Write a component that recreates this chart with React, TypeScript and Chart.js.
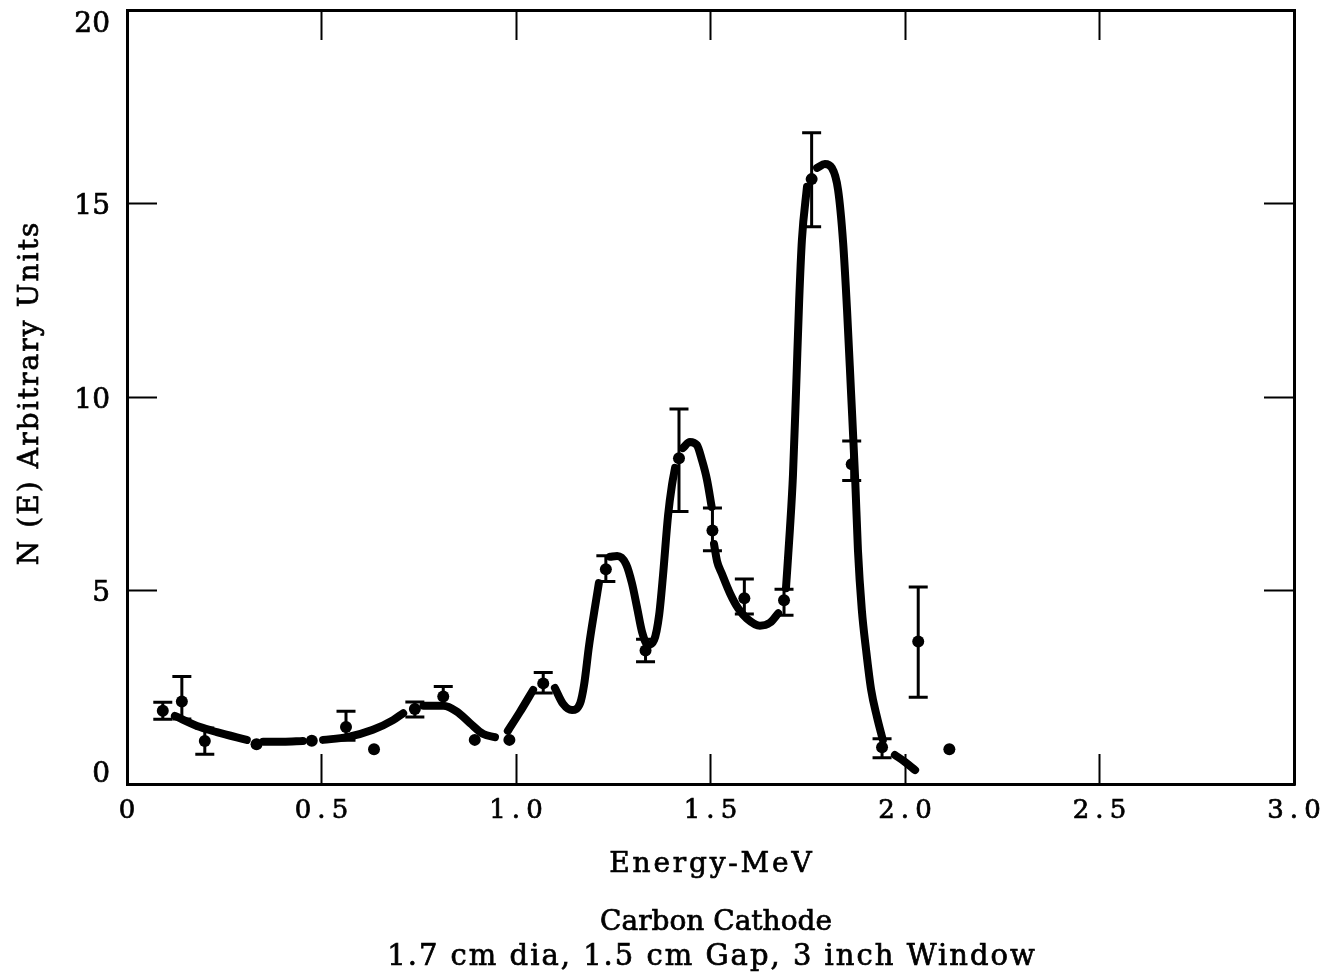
import { useEffect, useRef } from 'react';
import { Chart, registerables } from 'chart.js';

Chart.register(...registerables);

// Measured spectrum: energy (MeV), N(E) in arbitrary units, error bar extents
const energy = [0.092, 0.141, 0.2, 0.333, 0.475, 0.563, 0.635, 0.74, 0.813, 0.894, 0.983, 1.07, 1.231, 1.333, 1.419, 1.505, 1.587, 1.689, 1.76, 1.863, 1.941, 2.034, 2.114];
const counts = [1.89, 2.13, 1.11, 1.03, 1.12, 1.47, 0.9, 1.94, 2.26, 1.14, 1.14, 2.6, 5.55, 3.45, 8.42, 6.55, 4.8, 4.75, 15.63, 8.26, 0.95, 3.68, 0.9];
const errUp = [0.22, 0.65, 0.34, 0, 0, 0.41, 0, 0.18, 0.26, 0, 0, 0.28, 0.35, 0.29, 1.27, 0.58, 0.5, 0.28, 1.2, 0.6, 0.22, 1.41, 0];
const errDown = [0.22, 0.45, 0.34, 0, 0, 0.34, 0, 0.21, 0.26, 0, 0, 0.25, 0.32, 0.29, 1.38, 0.52, 0.41, 0.39, 1.23, 0.42, 0.27, 1.44, 0];

// Hand-drawn smooth curve through the spectrum; null entries break the stroke
const curveE = [
  0.123, 0.188, 0.231, 0.308, 0.33,
  0.35, 0.401, 0.452, 0.475,
  0.504, 0.566, 0.632, 0.684, 0.71, 0.74,
  0.762, 0.813, 0.848, 0.882, 0.916, 0.946, 0.96,
  0.979, 1.01, 1.044, 1.07,
  1.1, 1.121, 1.144, 1.165, 1.175, 1.188, 1.201, 1.213, 1.23,
  1.242, 1.26, 1.283, 1.298, 1.311, 1.324, 1.339, 1.355, 1.368, 1.378, 1.391, 1.401, 1.409, 1.42,
  1.429, 1.447, 1.465, 1.478, 1.491, 1.503, 1.506,
  1.509, 1.517, 1.529, 1.55, 1.571, 1.593, 1.627, 1.653, 1.674, 1.689,
  1.694, 1.704, 1.712, 1.72, 1.728, 1.735, 1.748, 1.76,
  1.774, 1.794, 1.812, 1.828, 1.841, 1.851, 1.861, 1.872, 1.879, 1.889, 1.9, 1.913, 1.928, 1.943, 1.955,
  1.974, 2.0, 2.026,
];
const curveN = [
  1.76, 1.47, 1.34, 1.14, null,
  1.09, 1.09, 1.11, null,
  1.14, 1.21, 1.4, 1.65, 1.83, null,
  2.02, 2.02, 1.87, 1.57, 1.29, 1.21, null,
  1.37, 1.86, 2.43, null,
  2.48, 2.07, 1.91, 2.09, 2.56, 3.59, 4.44, 5.19, null,
  5.87, 5.89, 5.68, 5.19, 4.57, 3.93, 3.59, 3.72, 4.37, 5.4, 6.95, 7.73, 8.17, null,
  8.68, 8.84, 8.76, 8.37, 7.86, 7.16, null,
  6.2, 5.75, 5.44, 4.93, 4.54, 4.28, 4.09, 4.17, 4.41, null,
  5.06, 6.56, 7.98, 10.18, 12.51, 14.06, 15.43, null,
  15.92, 16.02, 15.92, 15.35, 13.98, 12.25, 10.18, 7.86, 6.05, 4.5, 3.46, 2.43, 1.73, 1.14, null,
  0.75, 0.57, 0.36,
];

const xTickLabels = ['0', '0.5', '1.0', '1.5', '2.0', '2.5', '3.0'];
const yTickLabels = ['0', '5', '10', '15', '20'];

const SERIF = '"DejaVu Serif", "Liberation Serif", serif';

// Draws text with extra tracking, anchored left / centre / right, slightly
// stroked so the letterforms carry the weight of printed type
function drawSpaced(ctx: CanvasRenderingContext2D, text: string, x: number, y: number, spacing: number, align: string) {
  (ctx as any).letterSpacing = `${spacing}px`;
  const w = ctx.measureText(text).width - spacing;
  const start = align === 'center' ? x - w / 2 : align === 'right' ? x - w : x;
  ctx.textAlign = 'left';
  ctx.fillText(text, start, y);
  ctx.strokeText(text, start, y);
}

const errorBars = {
  id: 'errorBars',
  afterDatasetsDraw(chart: any) {
    const { ctx, scales: { x, y } } = chart;
    ctx.save();
    ctx.strokeStyle = '#000';
    ctx.lineWidth = 3;
    energy.forEach((e, i) => {
      if (!errUp[i] && !errDown[i]) return;
      const px = x.getPixelForValue(e);
      const top = y.getPixelForValue(counts[i] + errUp[i]);
      const bot = y.getPixelForValue(counts[i] - errDown[i]);
      ctx.beginPath();
      ctx.moveTo(px, top);
      ctx.lineTo(px, bot);
      ctx.moveTo(px - 9.5, top);
      ctx.lineTo(px + 9.5, top);
      ctx.moveTo(px - 9.5, bot);
      ctx.lineTo(px + 9.5, bot);
      ctx.stroke();
    });
    ctx.restore();
  },
};

const typeset = {
  id: 'typeset',
  afterDraw(chart: any) {
    const { ctx, chartArea: area, scales: { x, y } } = chart;
    ctx.save();
    ctx.fillStyle = '#000';
    ctx.strokeStyle = '#000';
    ctx.lineWidth = 0.7;
    ctx.textBaseline = 'alphabetic';

    ctx.font = `26px ${SERIF}`;
    x.ticks.forEach((t: any, i: number) => {
      drawSpaced(ctx, xTickLabels[i], x.getPixelForValue(t.value), area.bottom + 34, 6, 'center');
    });

    ctx.font = `28px ${SERIF}`;
    y.ticks.forEach((t: any, i: number) => {
      const py = y.getPixelForValue(t.value);
      const base = Math.min(Math.max(py + 10.5, area.top + 22), area.bottom - 2);
      drawSpaced(ctx, yTickLabels[i], area.left - 17, base, 0, 'right');
    });

    ctx.font = `28px ${SERIF}`;
    drawSpaced(ctx, 'Energy-MeV', (area.left + area.right) / 2, 872, 2.8, 'center');

    ctx.save();
    ctx.translate(38, (area.top + area.bottom) / 2 - 3);
    ctx.rotate(-Math.PI / 2);
    drawSpaced(ctx, 'N (E) Arbitrary Units', 0, 0, 2.1, 'center');
    ctx.restore();

    ctx.font = `28px ${SERIF}`;
    drawSpaced(ctx, 'Carbon Cathode', 716, 930, 0, 'center');
    ctx.font = `29px ${SERIF}`;
    drawSpaced(ctx, '1.7 cm dia, 1.5 cm Gap, 3 inch Window', 711, 965, 2, 'center');
    ctx.restore();
  },
};

const frameGrid = {
  drawOnChartArea: false,
  drawTicks: true,
  tickLength: -30,
  tickWidth: 2,
  tickColor: '#000',
};
const frameBorder = { display: true, color: '#000', width: 3 };

export default function App() {
  const ref = useRef<HTMLCanvasElement>(null);

  useEffect(() => {
    const canvas = ref.current;
    if (!canvas) return;
    const chart = new Chart(canvas, {
      type: 'scatter',
      data: {
        datasets: [
          {
            type: 'line',
            label: 'curve',
            data: curveE.map((e, i) => ({ x: e, y: curveN[i] })),
            borderColor: '#000',
            borderWidth: 8,
            pointRadius: 0,
            cubicInterpolationMode: 'monotone',
            spanGaps: false,
            borderCapStyle: 'round',
            borderJoinStyle: 'round',
            fill: false,
            order: 2,
          },
          {
            type: 'scatter',
            label: 'N(E)',
            data: energy.map((e, i) => ({ x: e, y: counts[i] })),
            backgroundColor: '#000',
            borderColor: '#000',
            pointRadius: 6,
            pointBorderWidth: 0,
            order: 1,
          },
        ],
      } as any,
      options: {
        responsive: false,
        animation: false,
        devicePixelRatio: 1,
        layout: { padding: { top: 10, right: 40, left: 0, bottom: 0 } },
        plugins: { legend: { display: false }, tooltip: { enabled: false }, title: { display: false } },
        scales: {
          x: {
            type: 'linear', position: 'bottom', min: 0, max: 3,
            ticks: { stepSize: 0.5, display: false },
            grid: frameGrid, border: frameBorder,
            afterFit: (s: any) => { s.height = 192; },
          },
          x2: {
            type: 'linear', position: 'top', min: 0, max: 3,
            ticks: { stepSize: 0.5, display: false },
            grid: frameGrid, border: frameBorder,
            afterFit: (s: any) => { s.height = 0; },
          },
          y: {
            type: 'linear', position: 'left', min: 0, max: 20,
            ticks: { stepSize: 5, display: false },
            grid: frameGrid, border: frameBorder,
            afterFit: (s: any) => { s.width = 127; },
          },
          y2: {
            type: 'linear', position: 'right', min: 0, max: 20,
            ticks: { stepSize: 5, display: false },
            grid: frameGrid, border: frameBorder,
            afterFit: (s: any) => { s.width = 0; },
          },
        },
      } as any,
      plugins: [errorBars, typeset],
    });
    return () => chart.destroy();
  }, []);

  return (
    <div style={{ position: 'absolute', left: 0, top: 0, width: 1334, height: 976, background: '#fff' }}>
      <canvas ref={ref} width={1334} height={976} style={{ display: 'block' }} />
    </div>
  );
}
